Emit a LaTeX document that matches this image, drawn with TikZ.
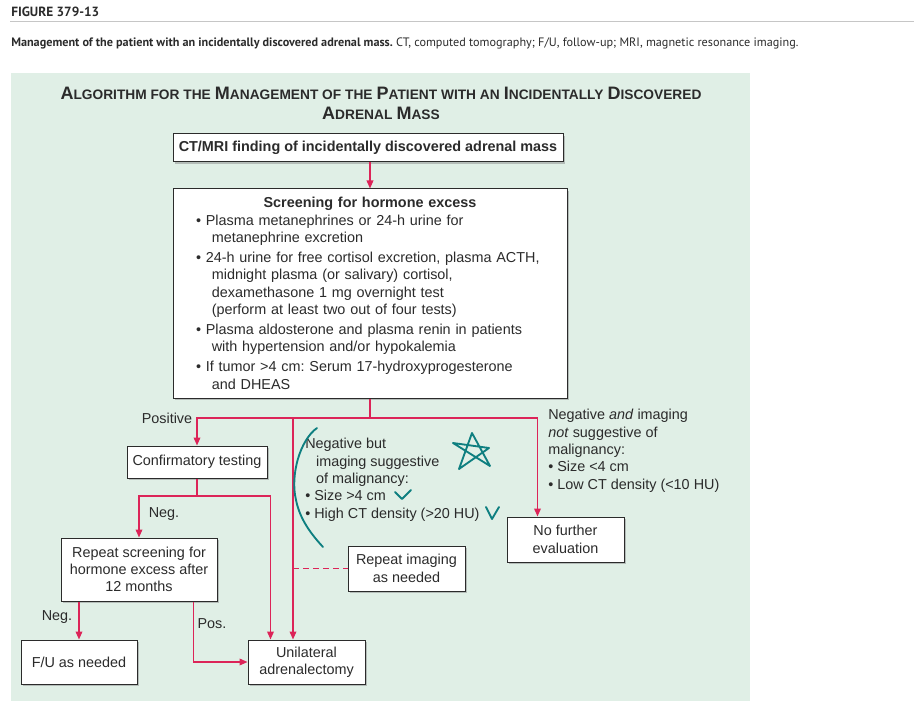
\documentclass[tikz,border=0pt]{standalone}
\usepackage{fontspec}
\setmainfont{Liberation Sans}
\newfontfamily\headfont{PT Sans}
\usetikzlibrary{arrows.meta, positioning, shadows}
\definecolor{panelgreen}{HTML}{E0EFE6}
\definecolor{flowred}{HTML}{DC2458}
\definecolor{penteal}{HTML}{0E7F80}
\definecolor{textgrey}{HTML}{2B2B2B}
% small caps made by hand: big first letter, small rest
\newcommand{\tc}[2]{{\fontsize{13.5}{15}\selectfont #1}{\fontsize{10.3}{15}\selectfont\MakeUppercase{#2}}}
\tikzset{x=0.75pt, y=-0.75pt, % one unit is one pixel of the page
    every node/.style={font=\fontsize{10.8}{13}\selectfont, text=textgrey}}
\frenchspacing

\begin{document}
\begin{tikzpicture}

        % Define styles
        \tikzstyle{flowbox} = [rectangle, draw=textgrey, line width=0.75pt, fill=white, align=center, inner sep=2pt, drop shadow={shadow xshift=1.5pt, shadow yshift=-1.5pt, opacity=0.45, fill=gray}]
        \tikzstyle{flowline} = [draw=flowred, line width=1.1pt]
        \tikzstyle{flowarrow} = [flowline, -{Triangle[length=6pt, width=5pt]}]
        \tikzstyle{lbl} = [inner sep=0pt]
        \tikzstyle{pen} = [draw=penteal, line width=1.4pt, line cap=round, line join=round]

        \useasboundingbox (0,0) rectangle (914,713);

        % Page header
        \node[anchor=base west, inner sep=0, font=\headfont\bfseries\fontsize{10}{12}\selectfont] (figno) at (11,17) {FIGURE 379-13};
        \draw[gray!45, line width=0.75pt] (10,21.5) -- (914,21.5);
        \node[anchor=base west, inner sep=0, font=\headfont\fontsize{9.15}{11}\selectfont] (caption) at (11,47) {\textbf{Management of the patient with an incidentally discovered adrenal mass.} CT, computed tomography; F/U, follow-up; MRI, magnetic resonance imaging.};

        % Panel and title
        \fill[panelgreen] (11,73) rectangle (750,701);
        \node[font=\bfseries\fontsize{11}{15}\selectfont, align=center, inner sep=0] (title) at (381,103) {\tc{A}{lgorithm for the} \tc{M}{anagement of the} \tc{P}{atient with an} \tc{I}{ncidentally} \tc{D}{iscovered}\\ \tc{A}{drenal} \tc{M}{ass}};

        % Boxes (top to bottom)
        \node[flowbox, minimum width=292.5pt, minimum height=21pt, font=\bfseries\fontsize{10.8}{13}\selectfont] (ctmri) at (368,148) {CT/MRI finding of incidentally discovered adrenal mass};
        \node[flowbox, text width=261pt, inner xsep=17.25pt, minimum height=156.75pt, align=left] (screen) at (370,293.5) {\makebox[261pt][c]{\bfseries Screening for hormone excess}\\
            \textbullet\ Plasma metanephrines or 24-h urine for\\
            \hspace*{1.1em}metanephrine excretion\\[2pt]
            \textbullet\ 24-h urine for free cortisol excretion, plasma ACTH,\\
            \hspace*{1.1em}midnight plasma (or salivary) cortisol,\\
            \hspace*{1.1em}dexamethasone 1 mg overnight test\\
            \hspace*{1.1em}(perform at least two out of four tests)\\[2pt]
            \textbullet\ Plasma aldosterone and plasma renin in patients\\
            \hspace*{1.1em}with hypertension and/or hypokalemia\\[2pt]
            \textbullet\ If tumor >4 cm: Serum 17-hydroxyprogesterone\\
            \hspace*{1.1em}and DHEAS};
        \node[flowbox, minimum width=105pt, minimum height=24pt] (confirm) at (197,462) {Confirmatory testing};
        \node[flowbox, minimum width=117pt, minimum height=47.25pt] (repeatscr) at (139,569.5) {Repeat screening for\\hormone excess after\\12 months};
        \node[flowbox, minimum width=87pt, minimum height=33pt] (fu) at (79,662) {F/U as needed};
        \node[flowbox, minimum width=87.75pt, minimum height=33pt] (adrenal) at (306.5,662) {Unilateral\\adrenalectomy};
        \node[flowbox, minimum width=87.75pt, minimum height=33.75pt] (reimg) at (406.5,568.5) {Repeat imaging\\as needed};
        \node[flowbox, minimum width=87.75pt, minimum height=33.75pt] (nofurther) at (565.5,539.5) {No further\\evaluation};

        % Branch texts
        \node[anchor=north west, align=left, inner sep=0] (negbut) at (305,438) {Negative but\\
            \hspace*{0.75em}imaging suggestive\\
            \hspace*{0.75em}of malignancy:\\
            \textbullet\ Size >4 cm\\
            \textbullet\ High CT density (>20 HU)};
        \node[anchor=north west, align=left, inner sep=0] (negand) at (548,409) {Negative \textit{and} imaging\\
            \textit{not} suggestive of\\
            malignancy:\\
            \textbullet\ Size <4 cm\\
            \textbullet\ Low CT density (<10 HU)};

        % Connectors
        \coordinate (split) at (370,418);
        \coordinate (midsplit) at (293,418);
        \coordinate (confsplit) at (197,496);
        \draw[flowarrow] (screen.north |- ctmri.south) -- (screen.north);
        \draw[flowline] (screen.south) -- (split);
        \draw[flowarrow] (split) -| (confirm.north);
        \draw[flowarrow] (split) -| ([xshift=23.25pt]nofurther.north west);
        \draw[flowarrow] (midsplit) -- (midsplit |- adrenal.north);
        \draw[flowline, dash pattern=on 4.5pt off 3pt] (midsplit |- reimg.west) -- (reimg.west);
        \draw[flowline] (confirm.south) -- (confsplit);
        \draw[flowarrow] (confsplit) -| (repeatscr.north);
        \draw[flowarrow] (confsplit) -| ([xshift=17.25pt]adrenal.north west);
        \draw[flowarrow] (fu.north |- repeatscr.south) -- (fu.north);
        \draw[flowarrow] ([xshift=-18pt]repeatscr.south east) |- (adrenal.west);

        % Branch labels
        \node[lbl] (poslbl) at (167,418) {Positive};
        \node[lbl] (neglbl) at (164,514) {Neg.};
        \node[lbl] (neglbltwo) at (57,617) {Neg.};
        \node[lbl] (poslbltwo) at (212,624) {Pos.};

        % Pen marks
        \draw[pen] (317,428) .. controls (300,440) and (290,475) .. (296,500) .. controls (300,520) and (312,535) .. (323,547);
        \draw[pen] (472,433) -- (459,469) -- (489,448) -- (453,443) -- (490,466) -- cycle;
        \draw[pen] (395,492) -- (402,499) -- (411,490);
        \draw[pen] (486,507) -- (492,519) -- (499,507);

    \end{tikzpicture}
\end{document}
